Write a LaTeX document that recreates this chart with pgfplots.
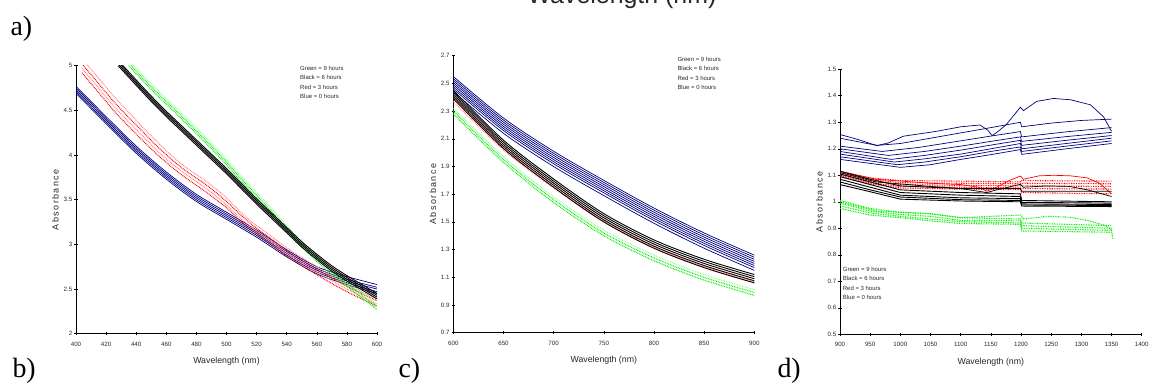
\documentclass[border=0pt]{standalone}
\usepackage{fontspec}
\setmainfont{Liberation Sans}
\newfontfamily\seriffont{Liberation Serif}
\usepackage{pgfplots}
\pgfplotsset{compat=1.18}
\definecolor{navy}{RGB}{0,0,128}
\definecolor{pinkred}{RGB}{255,130,130}
\definecolor{brightgreen}{RGB}{0,235,0}
\definecolor{lightgreen}{RGB}{140,255,140}
\definecolor{txt}{RGB}{40,40,40}
\pgfplotsset{
  panel/.style={
    scale only axis,
    axis x line=bottom, axis y line=left,
    axis line style={-, black, line width=0.8pt},
    tick align=center, major tick length=3.5bp,
    tick style={black, line width=0.6pt},
    ticklabel style={font=\fontsize{6.2}{7}\selectfont, text=txt},
    xticklabel style={yshift=-3bp},
    yticklabel style={xshift=1.5bp},
    /pgf/number format/assume math mode=true,
    /pgf/number format/1000 sep={},
    xlabel={Wavelength (nm)},
    ylabel={Absorbance},
    xlabel style={font=\fontsize{8.8}{10}\selectfont, text=txt, yshift=-4bp},
    ylabel style={font=\fontsize{9}{10}\selectfont\addfontfeature{LetterSpace=16}, text=txt, yshift=-2bp},
    minor tick num=0,
    clip=true,
  },
  bl/.style={navy, line width=0.7pt},
  kl/.style={black, line width=0.9pt},
  rl/.style={red, dash pattern=on 0.8pt off 0.9pt, line width=1.1pt},
  pl/.style={pinkred, dash pattern=on 0.8pt off 0.9pt, line width=1.1pt},
  gl/.style={brightgreen, dash pattern=on 0.8pt off 0.9pt, line width=1.1pt},
  lg/.style={lightgreen, dash pattern=on 0.8pt off 0.9pt, line width=1.1pt},
}
\newcommand{\legtext}{Green = 9 hours\\Black = 6 hours\\Red = 3 hours\\Blue = 0 hours}
\begin{document}
\begin{tikzpicture}[x=1bp,y=1bp]
\useasboundingbox (0,0) rectangle (1149,384);
\clip (0,0) rectangle (1149,384);
\node[anchor=base, font=\fontsize{25}{28}\selectfont, text=txt] at (622,380.5) {Wavelength (nm)};
\node[anchor=base west, font=\seriffont\fontsize{28}{30}\selectfont] at (7,349) {a)};
\node[anchor=base west, font=\seriffont\fontsize{28}{30}\selectfont] at (9,7) {b)};
\node[anchor=base west, font=\seriffont\fontsize{28}{30}\selectfont] at (395,7) {c)};
\node[anchor=base west, font=\seriffont\fontsize{28}{30}\selectfont] at (774,7) {d)};

% ---------------- panel b ----------------
\begin{axis}[panel, at={(76bp,50.3bp)}, anchor=south west, width=301bp, height=268bp,
  xmin=400, xmax=600, ymin=2, ymax=5,
  xtick={400,420,...,600}, ytick={2,2.5,3,3.5,4,4.5,5}]
\addplot[bl, smooth] coordinates {(400,4.77)(410,4.60)(420,4.43)(440,4.10)(460,3.81)(480,3.56)(500,3.36)(520,3.16)(540,2.94)(560,2.75)(580,2.64)(600,2.55)};
\addplot[bl, smooth] coordinates {(400,4.75)(410,4.58)(420,4.41)(440,4.08)(460,3.79)(480,3.54)(500,3.34)(520,3.14)(540,2.92)(560,2.73)(580,2.61)(600,2.52)};
\addplot[bl, smooth] coordinates {(400,4.73)(410,4.56)(420,4.39)(440,4.06)(460,3.77)(480,3.52)(500,3.32)(520,3.12)(540,2.90)(560,2.71)(580,2.59)(600,2.50)};
\addplot[bl, smooth] coordinates {(400,4.71)(410,4.54)(420,4.37)(440,4.04)(460,3.75)(480,3.50)(500,3.30)(520,3.10)(540,2.88)(560,2.69)(580,2.57)(600,2.47)};
\addplot[bl, smooth] coordinates {(400,4.69)(410,4.52)(420,4.35)(440,4.02)(460,3.73)(480,3.48)(500,3.28)(520,3.08)(540,2.86)(560,2.67)(580,2.55)(600,2.45)};
\addplot[pl, smooth] coordinates {(404,5.08)(415,4.86)(425,4.66)(435,4.48)(445,4.30)(455,4.13)(470,3.90)(487,3.70)(500,3.52)(510,3.35)(520,3.21)(530,3.09)(540,2.96)(560,2.75)(580,2.55)(600,2.39)};
\addplot[rl, smooth] coordinates {(404,5.02)(415,4.80)(425,4.60)(435,4.42)(445,4.25)(455,4.08)(470,3.86)(487,3.66)(500,3.48)(510,3.32)(520,3.18)(530,3.06)(540,2.93)(560,2.72)(580,2.53)(600,2.37)};
\addplot[pl, smooth] coordinates {(404,4.97)(415,4.75)(425,4.55)(435,4.37)(445,4.20)(455,4.03)(470,3.82)(487,3.62)(500,3.44)(510,3.28)(520,3.15)(530,3.03)(540,2.90)(560,2.69)(580,2.50)(600,2.33)};
\addplot[rl, smooth] coordinates {(404,4.92)(415,4.70)(425,4.50)(435,4.32)(445,4.15)(455,3.99)(470,3.78)(487,3.58)(500,3.41)(510,3.25)(520,3.12)(530,3.00)(540,2.87)(560,2.66)(580,2.47)(600,2.31)};
\addplot[lg, smooth] coordinates {(435,5.06)(445,4.88)(455,4.71)(465,4.55)(477,4.35)(490,4.13)(500,3.95)(510,3.76)(520,3.58)(530,3.40)(540,3.21)(550,3.03)(560,2.87)(570,2.72)(580,2.59)(590,2.46)(600,2.33)};
\addplot[gl, smooth] coordinates {(435,5.03)(445,4.85)(455,4.68)(465,4.52)(477,4.32)(490,4.10)(500,3.92)(510,3.73)(520,3.55)(530,3.37)(540,3.18)(550,3.00)(560,2.84)(570,2.69)(580,2.56)(590,2.43)(600,2.30)};
\addplot[gl, smooth] coordinates {(435,5.00)(445,4.82)(455,4.65)(465,4.49)(477,4.29)(490,4.07)(500,3.89)(510,3.70)(520,3.52)(530,3.34)(540,3.15)(550,2.97)(560,2.81)(570,2.66)(580,2.53)(590,2.40)(600,2.27)};
\addplot[kl, smooth] coordinates {(428,5.06)(440,4.84)(450,4.66)(460,4.49)(470,4.33)(480,4.17)(490,4.01)(500,3.85)(510,3.68)(520,3.51)(530,3.35)(540,3.19)(550,3.03)(560,2.89)(570,2.76)(580,2.65)(590,2.55)(600,2.45)};
\addplot[kl, smooth] coordinates {(428,5.04)(440,4.82)(450,4.64)(460,4.47)(470,4.31)(480,4.15)(490,3.99)(500,3.83)(510,3.66)(520,3.49)(530,3.33)(540,3.17)(550,3.01)(560,2.87)(570,2.74)(580,2.63)(590,2.53)(600,2.43)};
\addplot[kl, smooth] coordinates {(428,5.02)(440,4.80)(450,4.62)(460,4.45)(470,4.29)(480,4.13)(490,3.97)(500,3.81)(510,3.64)(520,3.47)(530,3.31)(540,3.15)(550,2.99)(560,2.85)(570,2.72)(580,2.61)(590,2.51)(600,2.41)};
\addplot[kl, smooth] coordinates {(428,5.00)(440,4.78)(450,4.60)(460,4.43)(470,4.27)(480,4.11)(490,3.95)(500,3.79)(510,3.62)(520,3.45)(530,3.29)(540,3.13)(550,2.97)(560,2.83)(570,2.70)(580,2.59)(590,2.49)(600,2.39)};
\end{axis}
\node[anchor=north west, align=left, font=\fontsize{6}{9.6}\selectfont, text=txt, inner sep=0pt] at (300,318.5) {\legtext};

% ---------------- panel c ----------------
\begin{axis}[panel, at={(453.3bp,51.3bp)}, anchor=south west, width=301bp, height=277bp,
  xmin=600, xmax=900, ymin=0.7, ymax=2.7,
  xtick={600,650,...,900}, ytick={0.7,0.9,1.1,1.3,1.5,1.7,1.9,2.1,2.3,2.5,2.7}]
\addplot[bl, smooth] coordinates {(600,2.55)(650,2.25)(700,2.01)(750,1.80)(800,1.60)(850,1.42)(900,1.26)};
\addplot[bl, smooth] coordinates {(600,2.535)(650,2.235)(700,1.995)(750,1.785)(800,1.585)(850,1.405)(900,1.245)};
\addplot[bl, smooth] coordinates {(600,2.52)(650,2.22)(700,1.98)(750,1.77)(800,1.57)(850,1.39)(900,1.23)};
\addplot[bl, smooth] coordinates {(600,2.505)(650,2.205)(700,1.965)(750,1.755)(800,1.555)(850,1.375)(900,1.215)};
\addplot[bl, smooth] coordinates {(600,2.49)(650,2.19)(700,1.95)(750,1.74)(800,1.54)(850,1.36)(900,1.20)};
\addplot[bl, smooth] coordinates {(600,2.475)(650,2.175)(700,1.935)(750,1.725)(800,1.525)(850,1.345)(900,1.185)};
\addplot[bl, smooth] coordinates {(600,2.46)(650,2.16)(700,1.92)(750,1.71)(800,1.51)(850,1.33)(900,1.17)};
\addplot[bl, smooth] coordinates {(600,2.44)(650,2.14)(700,1.90)(750,1.69)(800,1.49)(850,1.31)(900,1.15)};
\addplot[lg, smooth] coordinates {(600,2.32)(650,1.97)(700,1.68)(750,1.44)(800,1.26)(850,1.12)(900,1.01)};
\addplot[gl, smooth] coordinates {(600,2.30)(650,1.95)(700,1.66)(750,1.42)(800,1.24)(850,1.10)(900,0.99)};
\addplot[gl, smooth] coordinates {(600,2.28)(650,1.93)(700,1.64)(750,1.40)(800,1.22)(850,1.08)(900,0.97)};
\addplot[pl, smooth] coordinates {(600,2.37)(650,2.02)(700,1.745)(750,1.50)(800,1.31)(850,1.17)(900,1.06)};
\addplot[kl, smooth] coordinates {(600,2.45)(650,2.09)(700,1.81)(750,1.56)(800,1.37)(850,1.23)(900,1.12)};
\addplot[kl, smooth] coordinates {(600,2.435)(650,2.075)(700,1.795)(750,1.545)(800,1.355)(850,1.215)(900,1.105)};
\addplot[kl, smooth] coordinates {(600,2.42)(650,2.06)(700,1.78)(750,1.53)(800,1.34)(850,1.20)(900,1.09)};
\addplot[kl, smooth] coordinates {(600,2.405)(650,2.045)(700,1.765)(750,1.515)(800,1.325)(850,1.185)(900,1.075)};
\addplot[kl, smooth] coordinates {(600,2.39)(650,2.03)(700,1.75)(750,1.50)(800,1.31)(850,1.17)(900,1.06)};
\addplot[rl, smooth, line width=0.5pt] coordinates {(600,2.40)(650,2.04)(700,1.76)(750,1.51)(800,1.32)(850,1.18)(900,1.07)};
\end{axis}
\node[anchor=north west, align=left, font=\fontsize{6}{9.6}\selectfont, text=txt, inner sep=0pt] at (677.3,327.3) {\legtext};

% ---------------- panel d ----------------
\begin{axis}[panel, at={(840bp,49.7bp)}, anchor=south west, width=301.7bp, height=265bp,
  xmin=900, xmax=1400, ymin=0.5, ymax=1.5,
  xtick={900,950,...,1400}, ytick={0.5,0.6,0.7,0.8,0.9,1,1.1,1.2,1.3,1.4,1.5}]
\addplot[bl] coordinates {(900,1.254)(930,1.235)(961,1.212)(980,1.222)(1005,1.2475)(1060,1.266)(1100,1.283)(1132,1.29)(1145,1.27)(1152,1.25)(1160,1.262)(1175,1.29)(1199,1.357)(1204,1.344)(1226,1.379)(1254,1.39)(1282,1.385)(1315,1.366)(1337,1.32)(1350,1.266)};
\addplot[bl] coordinates {(900,1.24)(961,1.213)(1000,1.22)(1050,1.24)(1100,1.26)(1150,1.28)(1199,1.30)(1201,1.283)(1250,1.297)(1300,1.307)(1350,1.312)};
\addplot[bl] coordinates {(900,1.21)(970,1.19)(1030,1.205)(1100,1.23)(1150,1.248)(1199,1.265)(1201,1.245)(1275,1.264)(1350,1.28)};
\addplot[bl] coordinates {(900,1.20)(980,1.175)(1040,1.19)(1100,1.21)(1150,1.228)(1199,1.245)(1201,1.228)(1275,1.246)(1350,1.262)};
\addplot[bl] coordinates {(900,1.19)(985,1.16)(1040,1.175)(1100,1.195)(1150,1.214)(1199,1.232)(1201,1.213)(1275,1.232)(1350,1.25)};
\addplot[bl] coordinates {(900,1.18)(990,1.15)(1040,1.162)(1100,1.18)(1150,1.20)(1199,1.22)(1201,1.20)(1275,1.22)(1350,1.24)};
\addplot[bl] coordinates {(900,1.17)(995,1.14)(1040,1.15)(1100,1.17)(1150,1.19)(1199,1.207)(1201,1.19)(1275,1.21)(1350,1.23)};
\addplot[bl] coordinates {(900,1.16)(1000,1.13)(1050,1.14)(1100,1.16)(1150,1.178)(1199,1.197)(1201,1.179)(1275,1.20)(1350,1.22)};
\addplot[rl] coordinates {(900,1.115)(950,1.09)(1000,1.08)(1100,1.078)(1199,1.075)(1201,1.08)(1350,1.078)};
\addplot[rl] coordinates {(900,1.11)(950,1.085)(1000,1.072)(1100,1.07)(1199,1.068)(1201,1.07)(1350,1.068)};
\addplot[rl] coordinates {(900,1.105)(950,1.078)(1000,1.065)(1100,1.062)(1199,1.06)(1201,1.06)(1350,1.058)};
\addplot[rl] coordinates {(900,1.10)(950,1.072)(1000,1.058)(1100,1.055)(1199,1.052)(1201,1.05)(1350,1.048)};
\addplot[rl] coordinates {(900,1.095)(950,1.068)(1000,1.052)(1100,1.048)(1199,1.046)(1201,1.035)(1350,1.03)};
\addplot[red, line width=0.7pt] coordinates {(900,1.115)(960,1.085)(1050,1.07)(1100,1.065)(1130,1.055)(1143,1.04)(1160,1.055)(1180,1.08)(1199,1.097)(1204,1.085)(1230,1.098)(1254,1.10)(1282,1.098)(1310,1.09)(1330,1.07)(1350,1.03)};
\addplot[kl] coordinates {(900,1.115)(950,1.085)(1000,1.06)(1100,1.05)(1199,1.05)(1201,1.04)(1350,1.04)};
\addplot[kl] coordinates {(900,1.105)(950,1.075)(1000,1.045)(1100,1.035)(1199,1.03)(1201,1.005)(1350,1.0)};
\addplot[kl] coordinates {(900,1.095)(950,1.065)(1000,1.035)(1100,1.025)(1199,1.02)(1201,0.998)(1350,0.995)};
\addplot[kl] coordinates {(900,1.085)(950,1.055)(1000,1.025)(1100,1.015)(1199,1.012)(1201,0.992)(1350,0.99)};
\addplot[kl] coordinates {(900,1.075)(950,1.045)(1000,1.018)(1100,1.008)(1199,1.005)(1201,0.988)(1350,0.986)};
\addplot[kl] coordinates {(900,1.065)(950,1.038)(1000,1.01)(1100,1.003)(1199,1.0)(1201,0.984)(1350,0.982)};
\addplot[black, line width=0.7pt] coordinates {(900,1.11)(960,1.075)(1050,1.058)(1100,1.05)(1143,1.035)(1160,1.045)(1199,1.066)(1204,1.055)(1243,1.06)(1280,1.058)(1310,1.045)(1350,1.02)};
\addplot[gl] coordinates {(900,1.005)(950,0.975)(1000,0.96)(1050,0.955)(1100,0.94)(1199,0.935)(1201,0.92)(1350,0.91)};
\addplot[gl] coordinates {(900,0.995)(950,0.965)(1000,0.952)(1050,0.945)(1100,0.93)(1199,0.928)(1201,0.91)(1350,0.90)};
\addplot[gl] coordinates {(900,0.985)(950,0.958)(1000,0.945)(1050,0.935)(1100,0.925)(1199,0.92)(1201,0.90)(1350,0.892)};
\addplot[gl] coordinates {(900,0.975)(950,0.95)(1000,0.94)(1050,0.928)(1100,0.918)(1199,0.915)(1201,0.89)(1350,0.885)};
\addplot[gl] coordinates {(900,1.0)(960,0.965)(1050,0.955)(1100,0.94)(1199,0.95)(1204,0.935)(1243,0.945)(1280,0.942)(1310,0.93)(1340,0.91)(1350,0.895)(1352,0.86)};
\end{axis}
\node[anchor=north west, align=left, font=\fontsize{6}{9.6}\selectfont, text=txt, inner sep=0pt] at (842.7,117.3) {\legtext};
\end{tikzpicture}
\end{document}
